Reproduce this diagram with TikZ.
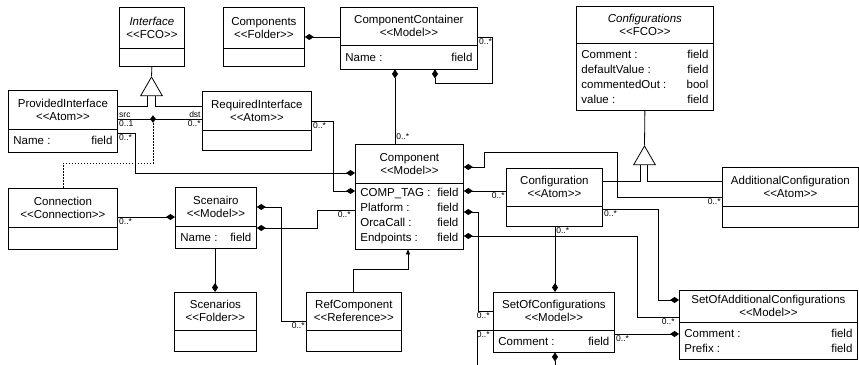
\documentclass[tikz,border=0pt]{standalone}
\usepackage{fontspec}
\setmainfont{Liberation Sans}
\usetikzlibrary{shapes.multipart, shapes.geometric, arrows.meta}
\newcommand\umlfont{\fontsize{11.5}{13}\selectfont}
\newcommand\multfont{\fontsize{8.5}{9}\selectfont}
% header part: [height]{width}{name}{stereotype}
\newcommand\hd[4][38]{\parbox[c][#1pt][c]{#2pt}{\centering #3\\<{}<#4>{}>}}
% attribute part: {width}{height}{rows}
\newcommand\bd[3]{\parbox[c][#2pt][c]{#1pt}{\baselineskip=15pt #3}}
\newcommand\umlrow[2]{\hspace*{5pt}#1\hfill#2\hspace*{5pt}\par}
\tikzset{
  cls/.style={rectangle split, rectangle split parts=2, draw, fill=white, inner sep=0pt, anchor=north west, font=\umlfont},
  has/.style={{Diamond[length=9pt,width=6pt]}-},
  inhtri/.style={regular polygon, regular polygon sides=3, draw, fill=white, minimum size=25pt, inner sep=0pt},
  joint/.style={diamond, fill, inner sep=0pt, minimum width=6pt, minimum height=8pt},
  mult/.style={font=\multfont, inner sep=1pt},
  assocline/.style={dash pattern=on 1.5pt off 1.5pt},
  refline/.style={-{Triangle[length=5pt,width=4pt]}},
}

\begin{document}
\begin{tikzpicture}[x=1pt, y=-1pt, line width=0.8pt]
\useasboundingbox (0,0) rectangle (859,364);
\node[cls] (iface) at (119,7) {\hd[40]{65}{\textit{Interface}}{FCO}\nodepart{two}\bd{65}{17}{}};
\node[cls] (comps) at (223,7) {\hd[40]{81}{Components}{Folder}\nodepart{two}\bd{81}{17}{}};
\node[cls] (cc) at (340,7) {\hd[37]{137}{ComponentContainer}{Model}\nodepart{two}\bd{137}{23}{\umlrow{Name :}{field}}};
\node[cls] (cfgs) at (576,6) {\hd[36]{137}{\textit{Configurations}}{FCO}\nodepart{two}\bd{137}{66}{\umlrow{Comment :}{field}\umlrow{defaultValue :}{field}\umlrow{commentedOut :}{bool}\umlrow{value :}{field}}};
\node[cls] (prov) at (8,90) {\hd{109}{ProvidedInterface}{Atom}\nodepart{two}\bd{109}{22}{\umlrow{Name :}{field}}};
\node[cls] (req) at (202,91) {\hd{109}{RequiredInterface}{Atom}\nodepart{two}\bd{109}{19}{}};
\node[cls] (comp) at (355,144) {\hd{108}{Component}{Model}\nodepart{two}\bd{108}{65}{\umlrow{COMP\_TAG :}{field}\umlrow{Platform :}{field}\umlrow{OrcaCall :}{field}\umlrow{Endpoints :}{field}}};
\node[cls] (conn) at (8,188) {\hd{109}{Connection}{Connection}\nodepart{two}\bd{109}{21}{}};
\node[cls] (scen) at (175,187) {\hd{81}{Scenairo}{Model}\nodepart{two}\bd{81}{21}{\umlrow{Name :}{field}}};
\node[cls] (cfg) at (506,168) {\hd[37]{96}{Configuration}{Atom}\nodepart{two}\bd{96}{19}{}};
\node[cls] (addcfg) at (722,167) {\hd{136}{AdditionalConfiguration}{Atom}\nodepart{two}\bd{136}{20}{}};
\node[cls] (scens) at (174,292) {\hd[37]{82}{Scenarios}{Folder}\nodepart{two}\bd{82}{20}{}};
\node[cls] (ref) at (306,292) {\hd[37]{95}{RefComponent}{Reference}\nodepart{two}\bd{95}{20}{}};
\node[cls] (soc) at (493,292) {\hd[37]{121}{SetOfConfigurations}{Model}\nodepart{two}\bd{121}{21}{\umlrow{Comment :}{field}}};
\node[cls] (soac) at (679,290) {\hd[31]{178}{SetOfAdditionalConfigurations}{Model}\nodepart{two}\bd{178}{36}{\umlrow{Comment :}{field}\umlrow{Prefix :}{field}}};
% inheritance
\node[inhtri] (tri1) at (151.5,89.5) {};
\node[inhtri] (tri2) at (644.5,158.5) {};
\draw (iface.south) -- (tri1.corner 1);
\draw ([xshift=-4pt]tri1.side 2) |- ([yshift=-16pt]prov.north east);
\draw ([xshift=4pt]tri1.side 2) |- ([yshift=-15pt]req.north west);
\draw (cfgs.south) -- (tri2.corner 1);
\draw ([xshift=-4pt]tri2.side 2) |- ([yshift=-13pt]cfg.north east);
\draw ([xshift=3pt]tri2.side 2) |- ([yshift=-14pt]addcfg.north west);
% connection src/dst
\node[joint] (pr) at (153,119) {};
\draw ([yshift=-29pt]prov.north east) node[mult,anchor=south west]{src} node[mult,anchor=north west]{0..1}
  -- ([yshift=-28pt]req.north west) node[mult,anchor=south east]{dst} node[mult,anchor=north east]{0..*};
\draw[assocline] (pr.south) -- ++(0,40) -| (conn.north);
% containment, left half
\draw[has] ([yshift=-30pt]comps.north east) -- ([yshift=-30pt]cc.north west);
\draw[has] ([xshift=95pt]cc.south west) -- ++(0,14) -| ([xshift=15pt,yshift=-30pt]cc.north east) -- ([yshift=-30pt]cc.north east) node[mult,anchor=north west]{0..*};
\draw[has] ([xshift=55pt]cc.south west) -- ([xshift=40pt]comp.north west) node[mult,anchor=south west,yshift=3pt]{0..*};
\draw[has] ([yshift=-29pt]comp.north west) -| ([xshift=18pt,yshift=-43pt]prov.north east) -- ([yshift=-43pt]prov.north east) node[mult,anchor=north west]{0..*};
\draw[has] ([yshift=-47pt]comp.north west) -| ([xshift=22pt,yshift=-30pt]req.north east) -- ([yshift=-30pt]req.north east) node[mult,anchor=north west]{0..*};
\draw[has] ([yshift=-30pt]scen.north west) -- ([yshift=-29pt]conn.north east) node[mult,anchor=north west]{0..*};
\draw[has] ([yshift=-41pt]scen.north east) -| ([xshift=-38pt,yshift=-66pt]comp.north west) -- ([yshift=-66pt]comp.north west) node[mult,anchor=north east,xshift=-3pt]{0..*};
\draw[has] ([yshift=-20pt]scen.north east) -| ([xshift=-25pt,yshift=-29pt]ref.north west) -- ([yshift=-29pt]ref.north west) node[mult,anchor=north east]{0..*};
\draw[has] ([xshift=41pt]scens.north west) -- ([xshift=40pt]scen.south west);
\draw[refline] ([xshift=47pt]ref.north west) -- ++(0,-23) -| ([xshift=53pt]comp.south west);
% containment, right half
\draw[has] ([yshift=-23pt]comp.north east) -- ++(21,0) -- ++(0,-15) -| ([xshift=-105pt,yshift=-30pt]addcfg.north west) -- ([yshift=-30pt]addcfg.north west) node[mult,anchor=north east]{0..*};
\draw[has] ([yshift=-47pt]comp.north east) -- ([yshift=-23pt]cfg.north west) node[mult,anchor=north east]{0..*};
\draw[has] ([yshift=-68pt]comp.north east) -| ([xshift=-15pt,yshift=-19pt]soc.north west) -- ([yshift=-19pt]soc.north west) node[mult,anchor=north east,xshift=-2pt]{0..*};
\draw[has] ([yshift=-92pt]comp.north east) -| ([xshift=-42pt,yshift=-27pt]soac.north west) -- ([yshift=-27pt]soac.north west) node[mult,anchor=north east,xshift=-3pt]{0..*};
\draw[has] ([xshift=62pt]soc.north west) -- ([xshift=49pt]cfg.south west) node[mult,anchor=north west]{0..*};
\draw[has] ([yshift=-10pt]soac.north west) -| ([xshift=56pt,yshift=-41pt]cfg.north east) -- ([yshift=-41pt]cfg.north east) node[mult,anchor=north west]{0..*};
\draw[has] ([yshift=-44pt]soac.north west) -- ([yshift=-42pt]soc.north east) node[mult,anchor=north west]{0..*};
% SetOfConfigurations loop, cut by the lower edge
\coordinate (cutL) at (477,366);
\coordinate (cutR) at (555,366);
\draw ([yshift=-38pt]soc.north west) node[mult,anchor=north east,xshift=-2pt]{0..*} -| (cutL);
\draw[has] ([xshift=62pt]soc.south west) -- (cutR);
\end{tikzpicture}
\end{document}
